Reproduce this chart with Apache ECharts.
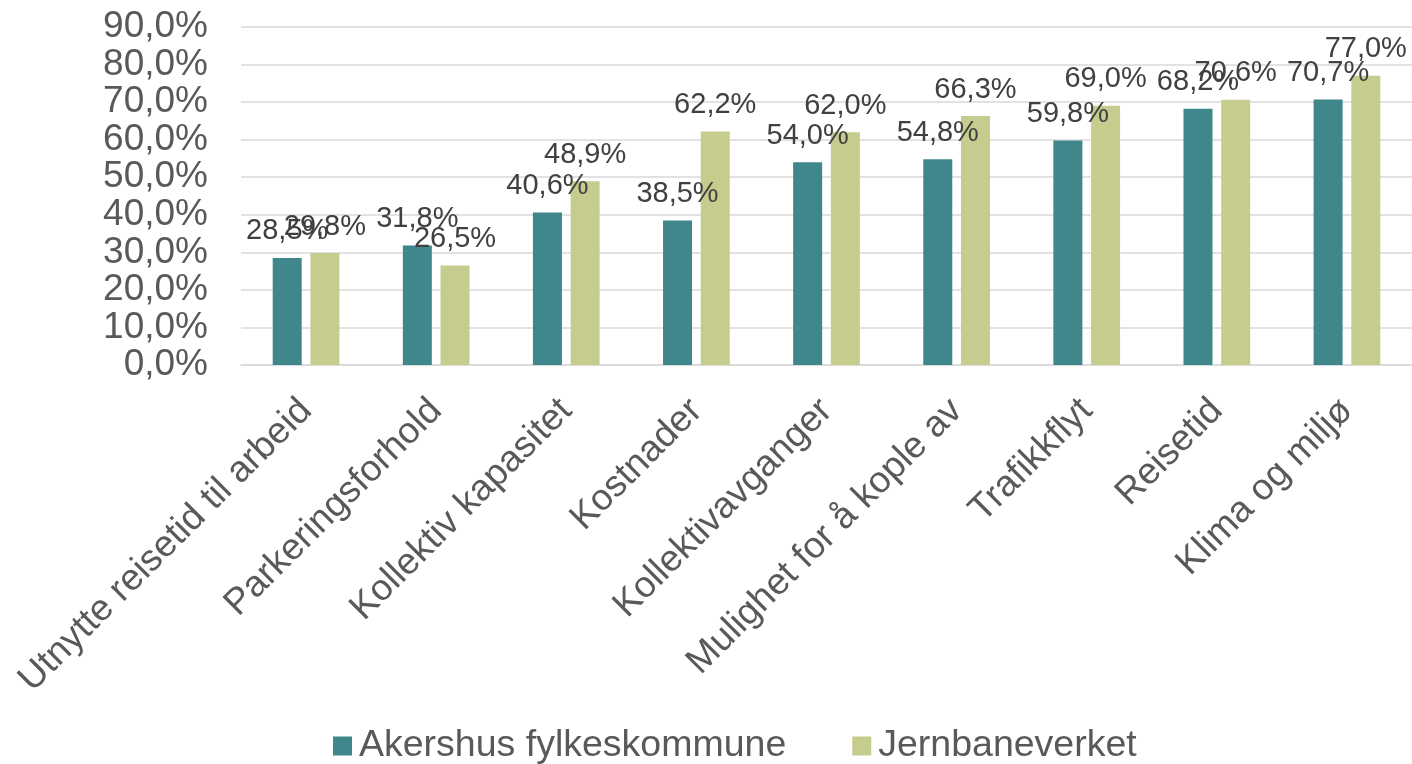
<!DOCTYPE html>
<html><head><meta charset="utf-8">
<script src="https://cdn.jsdelivr.net/npm/echarts@6/dist/echarts.min.js"></script>
<style>html,body{margin:0;padding:0;background:#fff}#c{width:1412px;height:764px}</style>
</head><body><div id="c"></div>
<script>
const categories = ["Utnytte reisetid til arbeid","Parkeringsforhold","Kollektiv kapasitet","Kostnader","Kollektivavganger","Mulighet for å kople av","Trafikkflyt","Reisetid","Klima og miljø"];
const akershus = [28.5,31.8,40.6,38.5,54.0,54.8,59.8,68.2,70.7];
const jernbane = [29.8,26.5,48.9,62.2,62.0,66.3,69.0,70.6,77.0];
const seriesNames = ["Akershus fylkeskommune","Jernbaneverket"];
const FONT = "'Liberation Sans', Arial, sans-serif";
const fmt = v => v.toFixed(1).replace('.', ',') + '%';
const chart = echarts.init(document.getElementById('c'));
const lbl = {show:true, position:'top', distance:12, fontSize:29, color:'#404040', fontFamily:FONT, formatter:p=>fmt(p.value)};
chart.setOption({
  animation:false,
  textStyle:{fontFamily:FONT},
  grid:{left:241, right:-2, top:27, bottom:399, containLabel:false},
  legend:{bottom:-6, left:328, itemWidth:19, itemHeight:19, itemGap:66, icon:'rect',
    textStyle:{fontSize:37.5, color:'#595959', fontFamily:FONT, padding:[0,0,0,2]}, data:seriesNames},
  xAxis:{type:'category', data:categories,
    axisLine:{lineStyle:{color:'#d9d9d9', width:1.5}}, axisTick:{show:false},
    axisLabel:{interval:0, rotate:45, fontSize:37, color:'#595959', fontFamily:FONT, margin:40}},
  yAxis:{type:'value', min:0, max:90, interval:10,
    axisLine:{show:false}, axisTick:{show:false},
    splitLine:{lineStyle:{color:'#d9d9d9', width:1.5}},
    axisLabel:{fontSize:37, color:'#595959', fontFamily:FONT, margin:33, formatter:v=>fmt(v)}},
  series:[
    {name:seriesNames[0], type:'bar', data:akershus, barWidth:29, barGap:'30%', itemStyle:{color:'#3F878B'}, label:lbl},
    {name:seriesNames[1], type:'bar', data:jernbane, barWidth:29, barGap:'30%', itemStyle:{color:'#C5CC8E'}, label:lbl}
  ]
});
</script></body></html>
